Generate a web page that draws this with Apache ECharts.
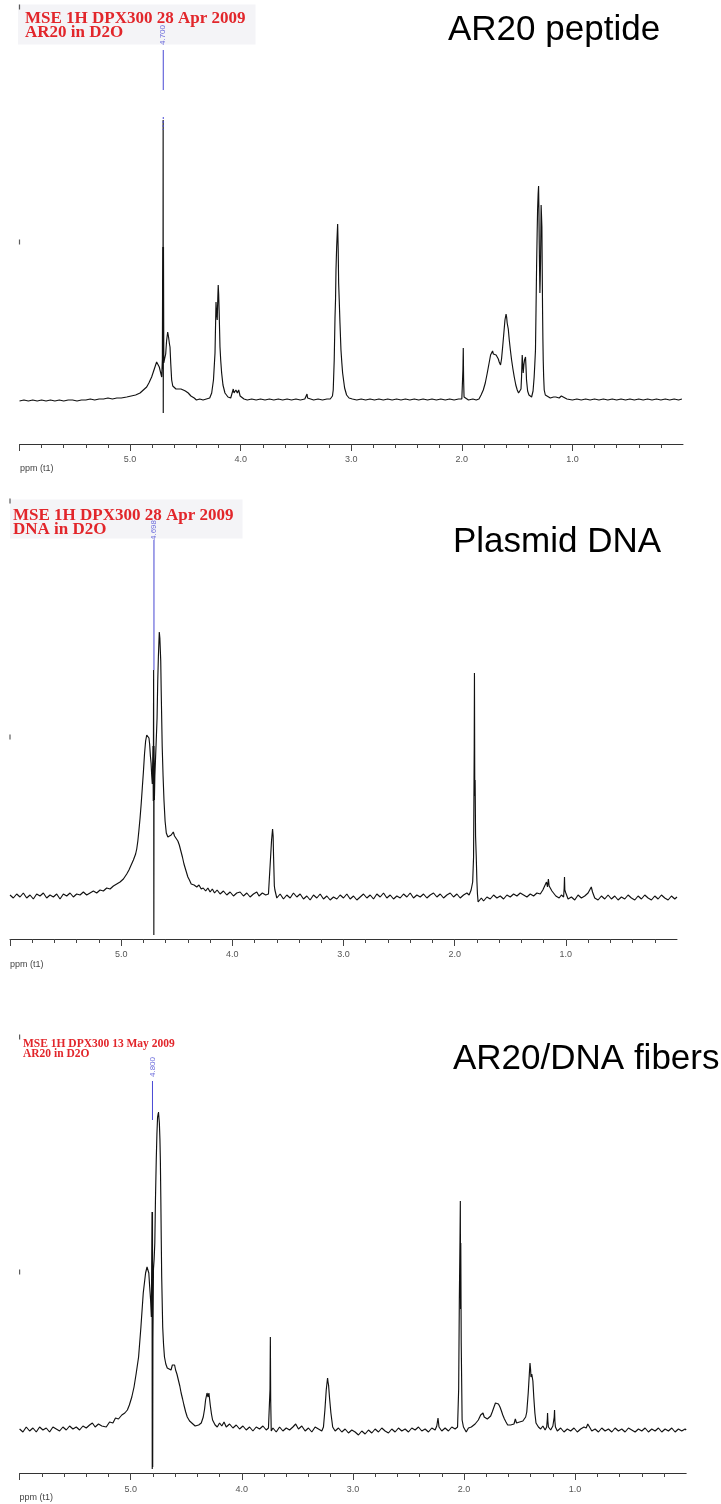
<!DOCTYPE html>
<html>
<head>
<meta charset="utf-8">
<script src="https://cdn.jsdelivr.net/npm/echarts@6/dist/echarts.min.js"></script>
<style>
html,body{margin:0;padding:0;background:#fff;}
#chart{width:721px;height:1504px;}
</style>
</head>
<body>
<div id="chart"></div>
<script>
// ---- Text ----
const panelNames = ['AR20 peptide', 'Plasmid DNA', 'AR20/DNA fibers'];
const headers = [
  'MSE 1H DPX300 28 Apr 2009\nAR20 in D2O',
  'MSE 1H DPX300 28 Apr 2009\nDNA in D2O',
  'MSE 1H DPX300 13 May 2009\nAR20 in D2O'
];
const axisName = 'ppm (t1)';
const tickLabels = ['5.0', '4.0', '3.0', '2.0', '1.0'];
const majorTicks = [6, 5, 4, 3, 2, 1];
const peakLabels = ['4.700', '4.698', '4.800'];

// ---- Reference peak markers (ppm, label height, line top, line bottom) ----
const peakPpm = [4.70, 4.705, 4.804];
const peakLabelY = [364, 366, 362];
const peakLineTop = [349, 356, 348];
const peakLineBottom = [309, 226, 309];

// ---- small left y-marks ----
const yMarks1 = [157, 392];
const yMarks2 = [159, 395];
const yMarks3 = [157, 392];

// ---- Spectrum 1: AR20 peptide [ppm, intensity] ----
const spec1 = [
[6.00,-2],[5.96,-1],[5.92,-2],[5.88,-1],[5.84,-2],[5.80,-1],[5.76,-2],[5.72,-1],[5.68,-2],[5.64,-1],[5.60,-2],[5.56,-1],[5.52,-1],[5.48,-2],[5.44,-1],[5.40,-1],[5.36,0],[5.32,-1],[5.28,0],[5.24,0],[5.20,1],[5.16,0],[5.12,1],[5.08,1],[5.03,2],[4.99,3],[4.95,4],[4.91,6],[4.88,9],[4.85,12],[4.83,16],[4.805,22],[4.79,27],[4.775,32],[4.76,37],[4.748,35],[4.736,32],[4.725,27],[4.714,22],[4.708,40],[4.705,152],[4.703,30],[4.701,279],[4.700,-14],[4.698,152],[4.695,36],[4.688,40],[4.678,45],[4.670,58],[4.660,67],[4.652,62],[4.644,55],[4.639,52],[4.632,35],[4.624,19],[4.614,13],[4.603,11],[4.585,10],[4.564,10],[4.54,10],[4.519,9],[4.50,8],[4.474,6],[4.45,3],[4.42,1],[4.40,-1],[4.37,0],[4.34,-1],[4.31,0],[4.28,1],[4.262,6],[4.246,19],[4.232,46],[4.223,97],[4.217,85],[4.212,79],[4.207,100],[4.203,114],[4.199,105],[4.195,89],[4.187,52],[4.180,38],[4.172,26],[4.16,14],[4.142,6],[4.115,2],[4.09,1],[4.075,3],[4.067,10],[4.06,6],[4.05,5],[4.043,9],[4.036,11],[4.03,6],[4.025,6],[4.018,9],[4.013,9],[4.005,3],[3.995,1],[3.97,0],[3.94,-1],[3.90,0],[3.86,-1],[3.82,0],[3.78,-1],[3.74,0],[3.70,-1],[3.66,0],[3.62,-1],[3.58,0],[3.54,-1],[3.50,0],[3.46,-1],[3.42,0],[3.405,1],[3.40,5],[3.395,1],[3.38,0],[3.34,-1],[3.30,0],[3.26,-1],[3.22,0],[3.19,0],[3.17,3],[3.163,9],[3.154,39],[3.147,81],[3.142,100],[3.138,129],[3.132,152],[3.128,150],[3.123,175],[3.118,149],[3.114,116],[3.109,100],[3.102,76],[3.093,49],[3.085,36],[3.078,26],[3.06,11],[3.042,4],[3.02,1],[2.99,0],[2.95,-1],[2.91,0],[2.87,-1],[2.83,0],[2.79,-1],[2.75,0],[2.71,-1],[2.67,0],[2.63,-1],[2.59,0],[2.55,-1],[2.51,0],[2.47,-1],[2.43,0],[2.39,-1],[2.35,0],[2.31,-1],[2.27,0],[2.23,-1],[2.19,0],[2.15,-1],[2.11,0],[2.07,-1],[2.03,0],[2.00,0],[1.995,2],[1.990,30],[1.987,51],[1.984,20],[1.980,2],[1.97,0],[1.94,-1],[1.90,0],[1.87,-1],[1.845,0],[1.826,4],[1.806,9],[1.788,16],[1.77,26],[1.755,35],[1.74,44],[1.73,46],[1.722,48],[1.715,45],[1.708,47],[1.70,46],[1.69,44],[1.68,42],[1.67,40],[1.662,37],[1.65,34],[1.641,40],[1.631,52],[1.62,66],[1.61,79],[1.60,85],[1.595,82],[1.59,76],[1.58,70],[1.571,59],[1.56,48],[1.55,39],[1.538,30],[1.526,22],[1.512,14],[1.499,9],[1.487,6],[1.475,4],[1.465,10],[1.46,22],[1.454,44],[1.449,35],[1.445,26],[1.439,34],[1.433,39],[1.424,42],[1.419,30],[1.415,19],[1.405,8],[1.393,4],[1.38,3],[1.369,2],[1.356,8],[1.346,22],[1.34,35],[1.334,49],[1.329,90],[1.324,132],[1.319,165],[1.315,189],[1.310,205],[1.306,213],[1.303,190],[1.300,156],[1.297,130],[1.294,106],[1.291,120],[1.288,139],[1.285,170],[1.283,194],[1.280,185],[1.276,172],[1.273,130],[1.270,89],[1.267,60],[1.264,39],[1.26,22],[1.255,9],[1.245,4],[1.234,2],[1.20,1],[1.17,2],[1.16,4],[1.15,2],[1.12,1],[1.10,3],[1.09,1],[1.05,0],[1.00,-1],[0.96,0],[0.92,-1],[0.88,0],[0.84,-1],[0.80,0],[0.76,-1],[0.72,0],[0.68,-1],[0.64,0],[0.60,-1],[0.56,0],[0.52,-1],[0.48,0],[0.44,-1],[0.40,0],[0.36,-1],[0.32,0],[0.28,-1],[0.24,0],[0.20,-1],[0.16,0],[0.12,-1],[0.08,0],[0.04,-1],[0.01,0]
];

// ---- Spectrum 2: Plasmid DNA ----
const spec2 = [
[6.00,1],[5.97,-2],[5.94,2],[5.91,-1],[5.88,3],[5.85,-2],[5.82,1],[5.79,-3],[5.76,2],[5.73,0],[5.70,3],[5.67,-2],[5.64,1],[5.61,-1],[5.58,2],[5.55,-3],[5.52,2],[5.49,0],[5.46,3],[5.43,-1],[5.40,2],[5.37,1],[5.34,4],[5.31,1],[5.28,3],[5.25,5],[5.22,3],[5.19,6],[5.16,5],[5.13,8],[5.10,7],[5.07,10],[5.04,12],[5.01,14],[4.98,17],[4.95,22],[4.93,26],[4.91,31],[4.89,36],[4.87,42],[4.86,47],[4.85,55],[4.84,66],[4.83,78],[4.82,92],[4.81,108],[4.80,124],[4.79,142],[4.78,155],[4.77,161],[4.76,163],[4.75,158],[4.744,152],[4.737,140],[4.731,133],[4.725,120],[4.72,112],[4.714,150],[4.711,95],[4.708,226],[4.706,-39],[4.704,150],[4.701,96],[4.697,120],[4.690,140],[4.683,160],[4.677,178],[4.671,215],[4.665,240],[4.657,264],[4.652,258],[4.648,260],[4.644,235],[4.640,206],[4.631,150],[4.623,120],[4.615,96],[4.605,75],[4.594,63],[4.58,59],[4.565,58],[4.55,61],[4.531,64],[4.52,60],[4.503,59],[4.49,55],[4.477,51],[4.463,45],[4.449,39],[4.435,32],[4.419,26],[4.40,19],[4.386,16],[4.37,12],[4.344,11],[4.32,9],[4.30,11],[4.28,7],[4.262,8],[4.24,5],[4.22,8],[4.20,4],[4.18,7],[4.16,3],[4.137,6],[4.11,2],[4.08,5],[4.05,1],[4.02,4],[3.99,0],[3.96,3],[3.93,4],[3.90,0],[3.87,3],[3.84,-1],[3.81,2],[3.78,4],[3.76,0],[3.73,3],[3.70,1],[3.675,2],[3.659,4],[3.647,56],[3.638,67],[3.633,60],[3.629,39],[3.622,10],[3.617,6],[3.60,-2],[3.57,2],[3.54,-3],[3.51,1],[3.48,-2],[3.45,3],[3.42,-1],[3.39,2],[3.36,-3],[3.33,0],[3.30,-4],[3.27,1],[3.24,-2],[3.21,2],[3.18,-3],[3.15,0],[3.12,-4],[3.09,-1],[3.06,-3],[3.03,1],[3.00,-2],[2.97,2],[2.94,-3],[2.91,0],[2.88,-4],[2.85,-1],[2.82,2],[2.79,-2],[2.76,1],[2.73,-3],[2.70,2],[2.67,-1],[2.64,3],[2.61,-2],[2.58,1],[2.55,-3],[2.52,0],[2.49,-2],[2.46,2],[2.43,-1],[2.40,3],[2.37,-2],[2.34,1],[2.31,-1],[2.28,2],[2.25,-2],[2.22,1],[2.19,3],[2.16,-1],[2.13,2],[2.10,-2],[2.07,1],[2.04,3],[2.01,-1],[1.98,2],[1.95,-2],[1.92,1],[1.89,3],[1.87,1],[1.852,6],[1.838,14],[1.830,39],[1.824,150],[1.822,223],[1.819,100],[1.816,116],[1.812,60],[1.806,40],[1.80,15],[1.795,2],[1.789,-6],[1.78,-4],[1.76,-2],[1.74,-5],[1.71,-1],[1.68,-3],[1.65,1],[1.62,-2],[1.59,0],[1.56,-3],[1.53,1],[1.50,-1],[1.47,2],[1.44,0],[1.41,3],[1.38,1],[1.35,-1],[1.32,2],[1.29,0],[1.26,3],[1.23,2],[1.207,6],[1.19,4],[1.174,14],[1.165,9],[1.157,17],[1.15,10],[1.14,9],[1.125,5],[1.11,3],[1.09,0],[1.06,-2],[1.04,1],[1.02,-1],[1.015,8],[1.012,19],[1.009,6],[1.00,3],[0.98,-3],[0.95,-1],[0.92,-4],[0.89,1],[0.86,-2],[0.83,0],[0.80,3],[0.785,5],[0.771,9],[0.76,4],[0.74,-2],[0.71,-4],[0.68,0],[0.65,-3],[0.62,1],[0.59,-3],[0.56,0],[0.53,-4],[0.50,-1],[0.47,-3],[0.44,1],[0.41,-2],[0.38,-4],[0.35,0],[0.32,-3],[0.29,1],[0.26,-2],[0.23,-4],[0.20,0],[0.17,-3],[0.14,1],[0.11,-2],[0.08,-4],[0.05,0],[0.02,-3],[0.00,-1]
];

// ---- Spectrum 3: AR20/DNA fibers ----
const spec3 = [
[6.00,0],[5.97,-3],[5.94,2],[5.91,-2],[5.88,1],[5.85,-3],[5.82,2],[5.79,-1],[5.76,1],[5.73,-3],[5.70,2],[5.67,0],[5.64,-2],[5.61,2],[5.58,-1],[5.55,3],[5.52,0],[5.49,2],[5.46,-1],[5.43,3],[5.40,1],[5.37,4],[5.345,6],[5.32,2],[5.29,5],[5.26,3],[5.22,2],[5.19,7],[5.16,6],[5.137,11],[5.11,10],[5.08,14],[5.053,16],[5.03,19],[5.012,24],[4.99,32],[4.97,42],[4.95,56],[4.929,72],[4.908,102],[4.887,136],[4.866,156],[4.853,162],[4.845,160],[4.837,156],[4.829,142],[4.821,129],[4.814,112],[4.808,217],[4.806,-40],[4.804,217],[4.802,-38],[4.800,90],[4.795,160],[4.789,170],[4.783,186],[4.777,230],[4.770,269],[4.764,295],[4.758,312],[4.750,317],[4.742,306],[4.737,290],[4.733,269],[4.729,232],[4.725,190],[4.721,152],[4.712,102],[4.704,84],[4.696,72],[4.684,65],[4.671,61],[4.655,60],[4.637,59],[4.625,64],[4.612,62],[4.605,64],[4.596,59],[4.584,55],[4.571,49],[4.558,43],[4.546,36],[4.533,30],[4.521,24],[4.505,17],[4.491,12],[4.47,8],[4.45,6],[4.42,3],[4.388,4],[4.365,6],[4.347,12],[4.335,20],[4.326,29],[4.313,36],[4.304,32],[4.296,36],[4.284,24],[4.273,15],[4.263,9],[4.24,4],[4.221,2],[4.20,6],[4.18,3],[4.16,7],[4.14,2],[4.11,5],[4.08,1],[4.05,4],[4.02,0],[3.99,3],[3.96,-1],[3.93,2],[3.90,-2],[3.87,2],[3.84,0],[3.81,3],[3.78,-1],[3.76,1],[3.752,2],[3.746,40],[3.743,92],[3.740,30],[3.735,-2],[3.72,1],[3.69,-3],[3.66,2],[3.63,-2],[3.60,1],[3.57,-1],[3.54,2],[3.515,5],[3.49,0],[3.46,3],[3.43,-2],[3.40,1],[3.37,-3],[3.34,2],[3.31,0],[3.28,-2],[3.265,2],[3.252,19],[3.240,39],[3.228,51],[3.224,47],[3.219,44],[3.211,32],[3.198,16],[3.182,2],[3.16,-2],[3.13,1],[3.10,-3],[3.07,0],[3.04,-4],[3.01,-1],[2.98,-3],[2.95,-6],[2.92,-2],[2.89,-5],[2.86,-1],[2.83,-4],[2.80,0],[2.77,-3],[2.74,1],[2.71,-2],[2.68,-4],[2.65,0],[2.62,-3],[2.59,1],[2.56,-2],[2.53,0],[2.50,-3],[2.47,1],[2.44,-1],[2.41,2],[2.38,-2],[2.35,0],[2.32,-3],[2.29,1],[2.26,-1],[2.245,3],[2.234,11],[2.225,2],[2.20,-2],[2.17,1],[2.14,-2],[2.11,2],[2.08,0],[2.058,2],[2.048,40],[2.042,129],[2.036,190],[2.033,228],[2.031,120],[2.029,186],[2.025,86],[2.017,9],[2.005,2],[1.996,0],[1.98,-3],[1.96,1],[1.934,2],[1.90,5],[1.871,9],[1.85,14],[1.84,12],[1.829,16],[1.818,12],[1.808,14],[1.79,10],[1.775,12],[1.76,13],[1.746,17],[1.73,22],[1.717,26],[1.701,27],[1.69,25],[1.676,22],[1.663,18],[1.651,14],[1.636,10],[1.622,7],[1.607,4],[1.593,2],[1.58,4],[1.568,6],[1.55,5],[1.538,10],[1.527,6],[1.517,4],[1.50,7],[1.484,6],[1.47,8],[1.455,9],[1.445,12],[1.435,17],[1.422,36],[1.412,55],[1.406,66],[1.401,60],[1.397,52],[1.390,55],[1.385,57],[1.380,48],[1.372,32],[1.362,16],[1.352,6],[1.33,2],[1.31,0],[1.29,3],[1.27,-1],[1.256,2],[1.250,10],[1.248,16],[1.245,8],[1.24,2],[1.22,-1],[1.20,3],[1.194,4],[1.188,12],[1.185,19],[1.182,8],[1.177,2],[1.16,-2],[1.13,1],[1.10,-3],[1.07,0],[1.04,-2],[1.01,1],[0.98,-3],[0.95,0],[0.92,2],[0.90,1],[0.886,5],[0.87,2],[0.85,-2],[0.82,0],[0.79,-3],[0.76,1],[0.73,-2],[0.70,0],[0.67,-3],[0.64,1],[0.61,-2],[0.58,0],[0.55,-3],[0.52,1],[0.49,-1],[0.46,-3],[0.43,0],[0.40,-2],[0.37,1],[0.34,-3],[0.31,0],[0.28,-2],[0.25,1],[0.22,-3],[0.19,0],[0.16,-2],[0.13,1],[0.10,-3],[0.07,0],[0.04,-2],[0.01,0],[0.00,-1]
];

const spectra = [spec1, spec2, spec3];
const yMarks = [yMarks1, yMarks2, yMarks3];

// ---- Layout (pixels) ----
const grids = [
  {left: 19.5, width: 663.5, top: 0, height: 444},
  {left: 10, width: 667, top: 490, height: 449},
  {left: 19.6, width: 666.6, top: 1000, height: 473}
];
const yRanges = [[-45, 399], [-43, 406], [-44, 429]];
const labelMargins = [11, 11, 12];

const BLUE = '#4848d4';
const RED = '#e2262b';

const chart = echarts.init(document.getElementById('chart'), null, {renderer: 'canvas'});

const xAxes = grids.map((g, i) => ({
  type: 'value', gridIndex: i, min: 0, max: 6, interval: 1, inverse: true,
  axisLine: {show: true, onZero: false, lineStyle: {color: '#333', width: 1}},
  axisTick: {show: true, length: 7, customValues: majorTicks, lineStyle: {color: '#444', width: 1}},
  minorTick: {show: true, splitNumber: 5, length: 4, lineStyle: {color: '#444', width: 1}},
  splitLine: {show: false}, minorSplitLine: {show: false},
  axisLabel: {
    margin: labelMargins[i], fontSize: 9, color: '#555', fontFamily: 'Liberation Sans',
    formatter: v => tickLabels.includes(v.toFixed(1)) ? v.toFixed(1) : ''
  }
}));
const yAxes = grids.map((g, i) => ({
  type: 'value', gridIndex: i, min: yRanges[i][0], max: yRanges[i][1], show: false
}));

const series = [];
spectra.forEach((d, i) => {
  series.push({
    type: 'line', xAxisIndex: i, yAxisIndex: i, data: d, symbol: 'none',
    lineStyle: {color: '#111', width: 1.15}, animation: false, z: 2
  });
  series.push({
    type: 'line', xAxisIndex: i, yAxisIndex: i, symbol: 'none',
    data: [[peakPpm[i], peakLineTop[i]], [peakPpm[i], peakLineBottom[i]]],
    lineStyle: {color: BLUE, width: 1}, animation: false, z: 20
  });
  series.push({
    type: 'scatter', xAxisIndex: i, yAxisIndex: i, symbolSize: 0,
    data: [[peakPpm[i], peakLabelY[i]]],
    label: {show: true, position: 'inside', rotate: 90, formatter: peakLabels[i],
      fontSize: 8, color: BLUE, fontFamily: 'Liberation Sans'},
    animation: false, z: 20
  });
  series.push({
    type: 'scatter', xAxisIndex: i, yAxisIndex: i, symbol: 'rect', symbolSize: [1.2, 5],
    itemStyle: {color: '#333'}, data: yMarks[i].map(v => [6, v]), animation: false
  });
});
// dashed blue tip over the reference line in panel 1
series.push({
  type: 'line', xAxisIndex: 0, yAxisIndex: 0, symbol: 'none',
  data: [[peakPpm[0], 282], [peakPpm[0], 269]],
  lineStyle: {color: BLUE, width: 1, type: [2, 2]}, animation: false, z: 20
});

const titles = [
  {text: panelNames[0], left: 448, top: 10},
  {text: panelNames[1], left: 453, top: 522},
  {text: panelNames[2], left: 453, top: 1039}
].map(t => Object.assign(t, {padding: 0, z: 1, textStyle: {fontSize: 35, fontFamily: 'Liberation Sans', fontWeight: 'normal', color: '#000', lineHeight: 40}}));

titles.push(
  {text: headers[0], left: 18, top: 6, z: 0, padding: [6, 10, 3, 7], backgroundColor: '#f4f4f7',
   textStyle: {fontFamily: 'Liberation Serif', fontSize: 17, fontWeight: 'bold', color: RED, lineHeight: 14}},
  {text: headers[1], left: 10, top: 501, z: 0, padding: [8, 9, 0, 3], backgroundColor: '#f4f4f7',
   textStyle: {fontFamily: 'Liberation Serif', fontSize: 17, fontWeight: 'bold', color: RED, lineHeight: 14}},
  {text: headers[2], left: 23, top: 1039, z: 0, padding: 0,
   textStyle: {fontFamily: 'Liberation Serif', fontSize: 11.5, fontWeight: 'bold', color: RED, lineHeight: 10}},
  {text: axisName, left: 20, top: 464, padding: 0, textStyle: {fontSize: 9, fontWeight: 'normal', color: '#444', fontFamily: 'Liberation Sans', lineHeight: 10}},
  {text: axisName, left: 10, top: 960, padding: 0, textStyle: {fontSize: 9, fontWeight: 'normal', color: '#444', fontFamily: 'Liberation Sans', lineHeight: 10}},
  {text: axisName, left: 19.5, top: 1493, padding: 0, textStyle: {fontSize: 9, fontWeight: 'normal', color: '#444', fontFamily: 'Liberation Sans', lineHeight: 10}}
);

chart.setOption({
  backgroundColor: '#fff',
  animation: false,
  title: titles,
  grid: grids,
  xAxis: xAxes,
  yAxis: yAxes,
  series: series
});
</script>
</body>
</html>
